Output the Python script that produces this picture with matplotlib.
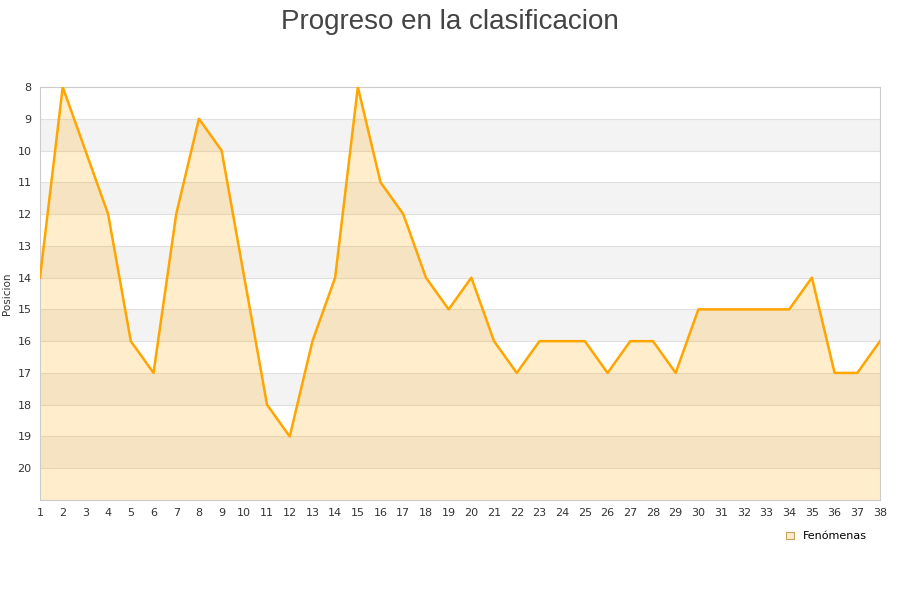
import matplotlib.pyplot as plt
from matplotlib.patches import Patch

# Jornada number and league position
jornadas = list(range(1, 39))
posicion = [14, 8, 10, 12, 16, 17, 12, 9, 10, 14, 18, 19, 16, 14, 8, 11, 12, 14, 15, 14,
            16, 17, 16, 16, 16, 17, 16, 16, 17, 15, 15, 15, 15, 15, 14, 17, 17, 16]
y_ticks = list(range(8, 21))

fig = plt.figure(figsize=(9, 6), dpi=100)
ax = fig.add_axes([40/900, 1-500/600, 840/900, 413/600])

# alternating bands
for y in range(9, 21, 2):
    ax.axhspan(y, y+1, color='#f3f3f3', zorder=0, lw=0)
for y in range(8, 22):
    ax.axhline(y, color='#e0e0e0', lw=0.8, zorder=1)

ax.fill_between(jornadas, posicion, 21, color='#FFA500', alpha=0.2, lw=0, zorder=2)
ax.plot(jornadas, posicion, color='#FFA500', lw=1.8, zorder=3)

ax.set_xlim(1, 38)
ax.set_ylim(21, 8)
ax.set_xticks(jornadas)
ax.set_yticks(y_ticks)
ax.tick_params(length=0, labelsize=8, colors='#333333', pad=6)
for s in ax.spines.values():
    s.set_color('#cccccc')
ax.set_ylabel('Posicion', fontsize=7.5, color='#333333', labelpad=4)

fig.suptitle('Progreso en la clasificacion', fontsize=20, color='#444444',
             family='Liberation Sans', y=0.985)

handle = Patch(facecolor='#FFEDCC', edgecolor='#c8a060', lw=0.8, label='Fenómenas')
ax.legend(handles=[handle], loc='upper right', bbox_to_anchor=(0.99, -0.065),
          frameon=False, fontsize=8, handlelength=0.7, handleheight=0.7, borderaxespad=0)

fig.savefig('out.png', dpi=100)
